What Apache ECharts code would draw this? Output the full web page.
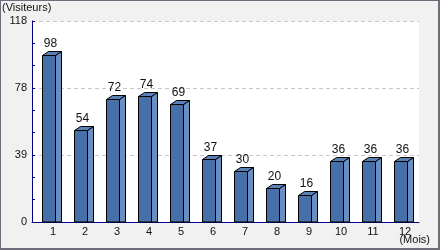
<!DOCTYPE html>
<html><head><meta charset="utf-8">
<script src="https://cdn.jsdelivr.net/npm/echarts@6/dist/echarts.min.js"></script>
<style>html,body{margin:0;padding:0;background:#f1f1f1}#c{width:440px;height:250px}</style>
</head><body><div id="c"></div>
<script>
const months = ['1','2','3','4','5','6','7','8','9','10','11','12'];
const visitors = [98, 54, 72, 74, 69, 37, 30, 20, 16, 36, 36, 36];
const yMax = 118;
const yTickCount = 3;
const yAxisTitle = '(Visiteurs)';
const xAxisTitle = '(Mois)';

const FONT = 'Liberation Sans, Arial, sans-serif';
const navy = '#000080';
const front = '#4670a8', side = '#6a8ebf', topc = '#5a80b6';

const chart = echarts.init(document.getElementById('c'), null, {renderer: 'canvas'});
const px = v => Math.round(v) + 0.5;

chart.setOption({
  animation: false,
  backgroundColor: '#f1f1f1',
  graphic: [
    {type: 'rect', z: -10, silent: true, shape: {x: 0, y: 0, width: 440, height: 250}, style: {fill: '#6c6e7c'}},
    {type: 'rect', z: -9, silent: true, shape: {x: 1, y: 1, width: 437, height: 247}, style: {fill: '#f1f1f1'}},
    {type: 'text', left: 2, top: 2, style: {text: yAxisTitle, font: '11px ' + FONT, fill: '#111'}},
    {type: 'text', right: 10, top: 234, style: {text: xAxisTitle, font: '11px ' + FONT, fill: '#111'}}
  ],
  grid: [
    {left: 32, top: 21, right: 21, bottom: 28, show: true, backgroundColor: '#ffffff', borderWidth: 0},
    {left: 32, top: 21, width: 384, bottom: 28}
  ],
  xAxis: [
    {type: 'category', gridIndex: 0, data: months,
     axisLine: {lineStyle: {color: navy, width: 1}}, axisTick: {show: false}, axisLabel: {show: false}},
    {type: 'category', gridIndex: 1, data: months,
     axisLine: {show: false}, axisTick: {show: false},
     axisLabel: {interval: 0, hideOverlap: false, margin: 4, fontFamily: FONT, fontSize: 11, color: '#111',
       formatter: v => '{a|' + v + '}', rich: {a: {padding: [0, 0, 0, 10], fontFamily: FONT, fontSize: 11, color: '#111'}}}}
  ],
  yAxis: [
    {type: 'value', gridIndex: 0, min: 0, max: yMax, interval: yMax / yTickCount,
     axisLine: {show: true, lineStyle: {color: navy, width: 1}},
     axisTick: {show: true, inside: true, length: 3, lineStyle: {color: navy}},
     minorTick: {show: true, splitNumber: 3, length: 3, lineStyle: {color: navy}},
     axisLabel: {margin: 5, fontFamily: FONT, fontSize: 11, color: '#111', formatter: v => String(Math.floor(v + 1e-6))},
     splitLine: {show: true, lineStyle: {color: '#c8c8c8', type: [4, 3], width: 1}}},
    {type: 'value', gridIndex: 1, min: 0, max: yMax, show: false, splitLine: {show: false}}
  ],
  series: [{
    type: 'custom', xAxisIndex: 1, yAxisIndex: 1,
    data: visitors.map((v, i) => [i, v]),
    encode: {x: 0, y: 1},
    renderItem: function (params, api) {
      const i = api.value(0), v = api.value(1);
      const t = api.coord([i, v]), b = api.coord([i, 0]);
      const c = t[0];
      const x0 = px(c - 6), x1 = x0 + 13, dx = 6, dy = 4;
      const yT = px(t[1]), yB = b[1];
      return {type: 'group', children: [
        {type: 'polygon', shape: {points: [[x1, yT], [x1 + dx, yT - dy], [x1 + dx, yB], [x1, yB]]},
         style: {fill: side, stroke: '#000', lineWidth: 1}},
        {type: 'polygon', shape: {points: [[x0, yT], [x0 + dx, yT - dy], [x1 + dx, yT - dy], [x1, yT]]},
         style: {fill: topc, stroke: '#000', lineWidth: 1}},
        {type: 'rect', shape: {x: x0, y: yT, width: x1 - x0, height: yB - yT},
         style: {fill: front, stroke: '#000', lineWidth: 1}},
        {type: 'text', style: {text: String(v), x: c + 2.5, y: yT - dy - 8, align: 'center', verticalAlign: 'middle',
         font: '12px ' + FONT, fill: '#111'}}
      ]};
    }
  }]
});
</script></body></html>
